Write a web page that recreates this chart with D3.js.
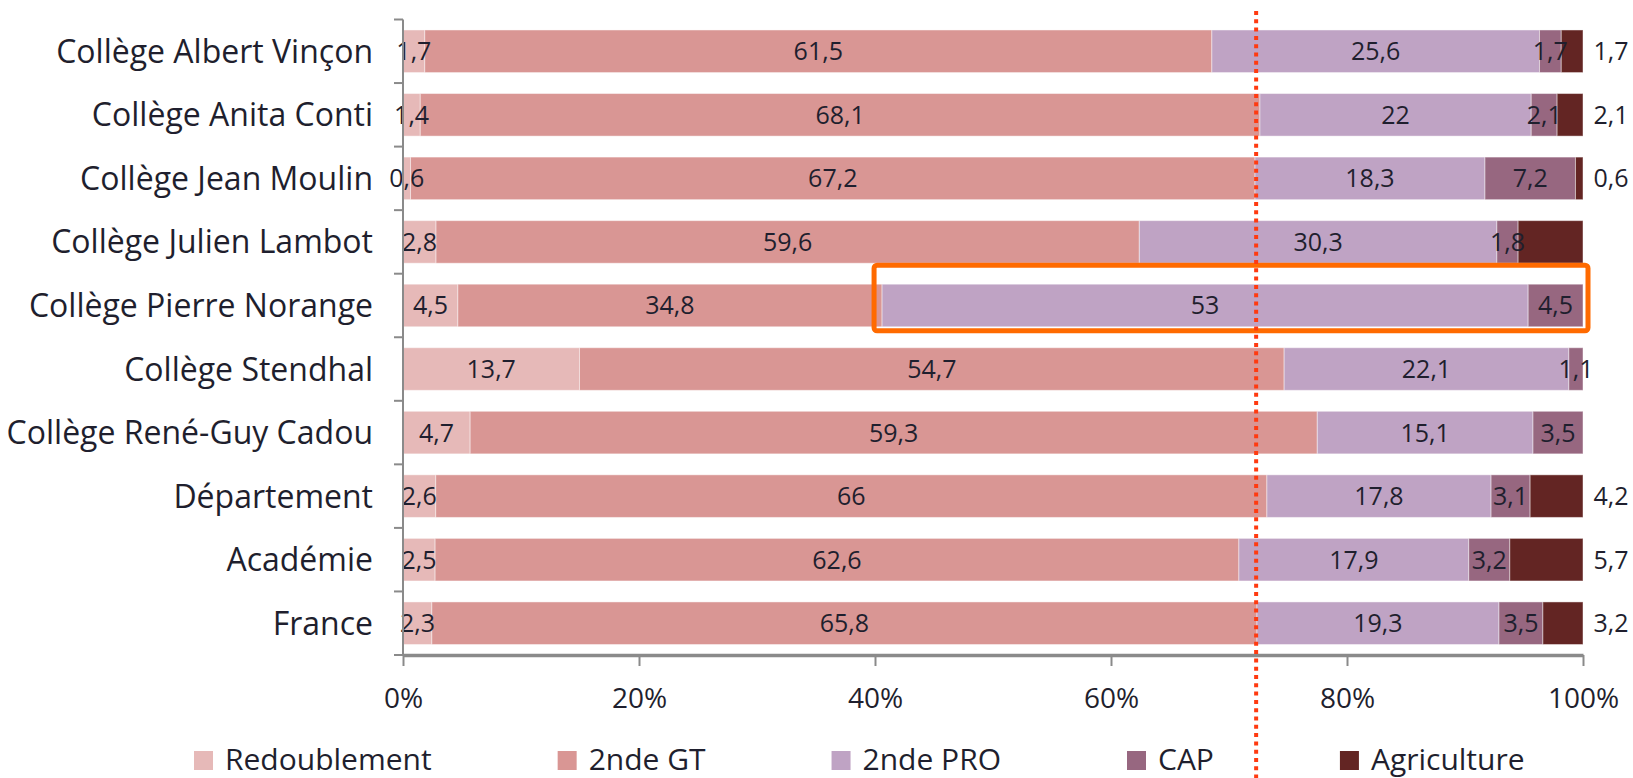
<!DOCTYPE html>
<html>
<head>
<meta charset="utf-8">
<script src="https://cdn.jsdelivr.net/npm/d3@7"></script>
<style>
  html, body { margin: 0; padding: 0; background: #fff; }
  svg { display: block; font-family: "Open Sans", "Noto Sans", sans-serif; }
</style>
</head>
<body>
<svg id="chart" width="1633" height="778"></svg>
<script>
// ---------- data ----------
const categories = [
  "Collège Albert Vinçon", "Collège Anita Conti", "Collège Jean Moulin",
  "Collège Julien Lambot", "Collège Pierre Norange", "Collège Stendhal",
  "Collège René-Guy Cadou", "Département", "Académie", "France"
];
const seriesNames = ["Redoublement", "2nde GT", "2nde PRO", "CAP", "Agriculture"];
const redoublement = [1.7, 1.4, 0.6, 2.8, 4.5, 13.7, 4.7, 2.6, 2.5, 2.3];
const secondeGT    = [61.5, 68.1, 67.2, 59.6, 34.8, 54.7, 59.3, 66, 62.6, 65.8];
const secondePRO   = [25.6, 22, 18.3, 30.3, 53, 22.1, 15.1, 17.8, 17.9, 19.3];
const cap          = [1.7, 2.1, 7.2, 1.8, 4.5, 1.1, 3.5, 3.1, 3.2, 3.5];
const agriculture  = [1.7, 2.1, 0.6, 5.5, 0, 0, 0, 4.2, 5.7, 3.2];
// labels that are not displayed in the original
const unlabeled = [["Collège Julien Lambot", "Agriculture"]];
const xTicks = [0, 0.2, 0.4, 0.6, 0.8, 1];
const referenceShare = 0.723;            // dotted reference line
const highlighted = "Collège Pierre Norange";
const colors = ["#e6b9b8", "#d99694", "#bfa3c4", "#976780", "#632523"];

// ---------- build ----------
const seriesValues = [redoublement, secondeGT, secondePRO, cap, agriculture];
const rows = categories.map((c, i) => {
  const r = { cat: c };
  seriesNames.forEach((s, k) => r[s] = seriesValues[k][i]);
  return r;
});
const stacked = d3.stack().keys(seriesNames).offset(d3.stackOffsetExpand)(rows);

const svg = d3.select("#chart");
const x = d3.scaleLinear().domain([0, 1]).range([403, 1583]);
const y = d3.scaleBand().domain(categories).range([19.5, 655])
  .paddingInner(0.33).paddingOuter(0.165);
const color = d3.scaleOrdinal().domain(seriesNames).range(colors);
const fmt = v => String(v).replace(".", ",");
const textColor = "#1f1f2e";
const axisColor = "#8a8a8a";

// bars
const g = svg.append("g");
stacked.forEach(layer => {
  g.append("g").selectAll("rect").data(layer).join("rect")
    .attr("x", d => x(d[0]))
    .attr("y", d => y(d.data.cat))
    .attr("width", d => Math.max(0, x(d[1]) - x(d[0])))
    .attr("height", y.bandwidth())
    .attr("fill", color(layer.key))
    .attr("stroke", "rgba(255,255,255,0.45)")
    .attr("stroke-width", 1);
});

// value labels
const labels = svg.append("g").attr("font-size", 25).attr("fill", textColor);
stacked.forEach(layer => {
  const key = layer.key;
  layer.forEach(d => {
    const v = d.data[key];
    if (!v) return;
    if (unlabeled.some(u => u[0] === d.data.cat && u[1] === key)) return;
    const outside = key === "Agriculture";
    const cx = outside ? x(1) + 28 : (x(d[0]) + x(d[1])) / 2;
    labels.append("text")
      .attr("x", cx)
      .attr("y", y(d.data.cat) + y.bandwidth() / 2)
      .attr("dy", "0.36em")
      .attr("text-anchor", "middle")
      .text(fmt(v));
  });
});

// left axis
const step = y.step();
const boundaries = d3.range(categories.length + 1).map(i => y(categories[0]) - y.paddingInner() * step / 2 + i * step);
const leftAxis = svg.append("g").attr("stroke", axisColor);
leftAxis.append("line")
  .attr("x1", x(0)).attr("x2", x(0))
  .attr("y1", boundaries[0]).attr("y2", boundaries[boundaries.length - 1])
  .attr("stroke-width", 2);
leftAxis.selectAll("line.tick").data(boundaries).join("line")
  .attr("class", "tick")
  .attr("x1", x(0) - 9).attr("x2", x(0))
  .attr("y1", d => d).attr("y2", d => d)
  .attr("stroke-width", 2);

// category labels
svg.append("g").selectAll("text").data(categories).join("text")
  .attr("x", x(0) - 30)
  .attr("y", d => y(d) + y.bandwidth() / 2)
  .attr("dy", "0.36em")
  .attr("text-anchor", "end")
  .attr("font-size", 32)
  .attr("fill", textColor)
  .text(d => d);

// bottom axis
const yAxis = boundaries[boundaries.length - 1];
const bottom = svg.append("g").attr("transform", `translate(0,${yAxis})`)
  .call(d3.axisBottom(x).tickValues(xTicks).tickFormat(d3.format(".0%"))
    .tickSize(11).tickSizeOuter(0).tickPadding(22));
bottom.select(".domain").attr("stroke", axisColor).attr("stroke-width", 3.5);
bottom.selectAll(".tick line").attr("stroke", axisColor).attr("stroke-width", 2);
bottom.selectAll(".tick text").attr("font-size", 28).attr("fill", textColor)
  .attr("font-family", "Open Sans, Noto Sans, sans-serif");

// highlight box around the highlighted row (PRO + CAP part)
const hl = stacked[2].find(d => d.data.cat === highlighted);
svg.append("rect")
  .attr("x", x(hl[0]) - 8)
  .attr("y", y(highlighted) - 19)
  .attr("width", x(1) + 5 - (x(hl[0]) - 8))
  .attr("height", y.bandwidth() + 23)
  .attr("rx", 3)
  .attr("fill", "none")
  .attr("stroke", "#ff6a00")
  .attr("stroke-width", 5);

// dotted reference line
svg.append("line")
  .attr("x1", x(referenceShare)).attr("x2", x(referenceShare))
  .attr("y1", 11).attr("y2", 778)
  .attr("stroke", "#ff3a10")
  .attr("stroke-width", 4)
  .attr("stroke-dasharray", "4,4.3");

// legend
const legend = svg.append("g").attr("transform", "translate(194,770)");
let lx = 0;
seriesNames.forEach(s => {
  const item = legend.append("g").attr("transform", `translate(${lx},0)`);
  item.append("rect").attr("x", 0).attr("y", -19).attr("width", 19).attr("height", 19)
    .attr("fill", color(s));
  const t = item.append("text").attr("x", 31).attr("y", 0)
    .attr("font-size", 30).attr("fill", textColor).text(s);
  lx += 31 + t.node().getComputedTextLength() + 126;
});
</script>
</body>
</html>
